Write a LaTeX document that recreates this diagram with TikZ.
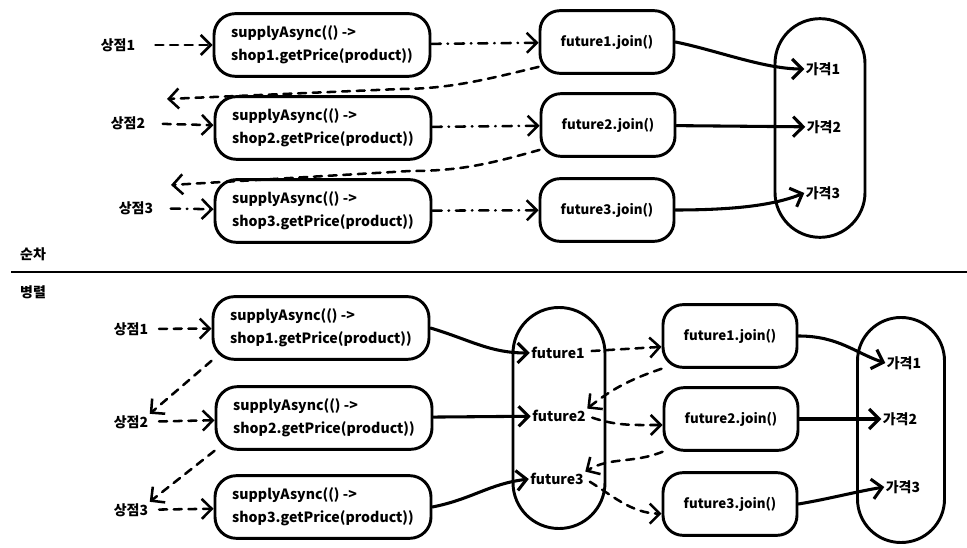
\documentclass[tikz,border=0pt]{standalone}
\usepackage{fontspec}
\setmainfont{Noto Sans CJK KR}
\usetikzlibrary{arrows.meta}
\begin{document}
\begin{tikzpicture}[x=0.75pt,y=-0.75pt,
  lbl/.style={font=\bfseries\fontsize{10.5}{12}\selectfont, inner sep=1pt},
  code/.style={draw, line width=2.2pt, rounded corners=16pt, inner sep=0pt,
    minimum width=162pt, minimum height=47pt, align=left,
    font=\bfseries\fontsize{10.6}{17}\selectfont},
  joinbox/.style={draw, line width=2.2pt, rounded corners=15pt, inner sep=0pt,
    minimum width=100.5pt, minimum height=47pt,
    font=\bfseries\fontsize{10}{12}\selectfont},
  stad/.style={draw, line width=2.2pt, inner sep=0pt},
  base/.style={line width=1.9pt, line cap=round, line join=round,
    -{Straight Barb[length=7.5pt,width=15pt]}},
  dsh/.style={base, dash pattern=on 6pt off 5pt},
  dd/.style={base, dash pattern=on 7pt off 5pt on 0.5pt off 5pt},
  sol/.style={base, line width=2.3pt},
  gap/.style={shorten <=#1},
  gap/.default=7pt]
\useasboundingbox (0,0) rectangle (967,548);

% ---------- sequential ----------
\node[lbl] (s1) at (118,45) {상점1};
\node[lbl] (s2) at (128,123) {상점2};
\node[lbl] (s3) at (136,208) {상점3};

\node[code] (B1) at (322,45) {supplyAsync(() ->\\shop1.getPrice(product))};
\node[code] (B2) at (323,128) {supplyAsync(() ->\\shop2.getPrice(product))};
\node[code] (B3) at (323,211) {supplyAsync(() ->\\shop3.getPrice(product))};

\node[joinbox] (F1) at (607,42) {future1.join()};
\node[joinbox] (F2) at (608,125) {future2.join()};
\node[joinbox] (F3) at (607,210) {future3.join()};

\node[stad, minimum width=67.5pt, minimum height=164pt, rounded corners=33.7pt] (R) at (820,128) {};
\node[lbl] (g1) at (823,69) {가격1};
\node[lbl] (g2) at (824,127) {가격2};
\node[lbl] (g3) at (823,193) {가격3};

\coordinate (r2) at (167,99);
\coordinate (r3) at (171,185);

\draw[dsh, gap=14pt] (s1) -- (B1);
\draw[dd] (B1) -- (F1);
\draw[dsh] (F1.200) .. controls +(-50,12) and +(50,0) .. (400,89) -- (r2);
\draw[dsh, gap=12pt] (s2) -- (B2);
\draw[dd] (B2) -- (F2);
\draw[dsh] (F2.200) .. controls +(-50,14) and +(50,0) .. (410,171) -- (r3);
\draw[dd, gap=12pt] (s3) -- (B3);
\draw[dd] (B3) -- (F3);
\draw[sol] (F1.east) .. controls +(40,8) and +(-40,0) .. (g1.west);
\draw[sol] (F2) -- (g2);
\draw[sol] (F3.east) .. controls +(70,0) and +(-25,10) .. (g3.west);

% ---------- separator ----------
\node[lbl] (seq) at (33,254) {순차};
\node[lbl] (par) at (33,292) {병렬};
\draw[line width=2.2pt] (11,272) -- (967,272);

% ---------- parallel ----------
\node[lbl] (t1) at (131,329) {상점1};
\node[lbl] (t2) at (131,422) {상점2};
\node[lbl] (t3) at (131,510) {상점3};

\node[code] (P1) at (321,328) {supplyAsync(() ->\\shop1.getPrice(product))};
\node[code] (P2) at (324,418) {supplyAsync(() ->\\shop2.getPrice(product))};
\node[code] (P3) at (323,507) {supplyAsync(() ->\\shop3.getPrice(product))};

\node[stad, minimum width=69pt, minimum height=165.75pt, rounded corners=34.4pt] (FS) at (559,418) {};
\node[lbl] (fu1) at (558,353) {future1};
\node[lbl] (fu2) at (559,416) {future2};
\node[lbl] (fu3) at (557,479) {future3};

\node[joinbox] (J1) at (730,336) {future1.join()};
\node[joinbox] (J2) at (731,419) {future2.join()};
\node[joinbox] (J3) at (730,504) {future3.join()};

\node[stad, minimum width=65.25pt, minimum height=168.75pt, rounded corners=32.5pt] (RS) at (901,430) {};
\node[lbl] (rg1) at (904,363) {가격1};
\node[lbl] (rg2) at (900,419) {가격2};
\node[lbl] (rg3) at (903,487) {가격3};

\draw[dsh, gap] (t1) -- (P1);
\draw[dsh] (P1.south west) -- (t2.north east);
\draw[dsh, gap] (t2) -- (P2);
\draw[dsh] (P2.south west) -- (t3.north east);
\draw[dsh, gap] (t3) -- (P3);

\draw[sol] (P1.east) .. controls +(40,12) and +(-40,0) .. (fu1.west);
\draw[sol] (P2) -- (fu2);
\draw[sol] (P3.east) .. controls +(40,-8) and +(-40,5) .. (fu3.west);

\draw[dsh, gap=4pt] (fu1) -- (J1.189);
\draw[dsh] (J1.south west) .. controls +(-30,10) and +(25,-20) .. (fu2.north east);
\draw[dsh, gap=4pt] (fu2.east) .. controls +(30,10) and +(-30,0) .. (J2.185);
\draw[dsh] (J2.south west) .. controls +(-30,12) and +(25,-15) .. (fu3.north east);
\draw[dsh, gap=4pt] (fu3.east) .. controls +(25,15) and +(-30,0) .. (J3.188);

\draw[sol] (J1.east) .. controls +(40,0) and +(-30,-10) .. (rg1.west);
\draw[sol] (J2) -- (rg2);
\draw[sol] (J3.east) .. controls +(30,-5) and +(-30,5) .. (rg3.west);
\end{tikzpicture}
\end{document}
